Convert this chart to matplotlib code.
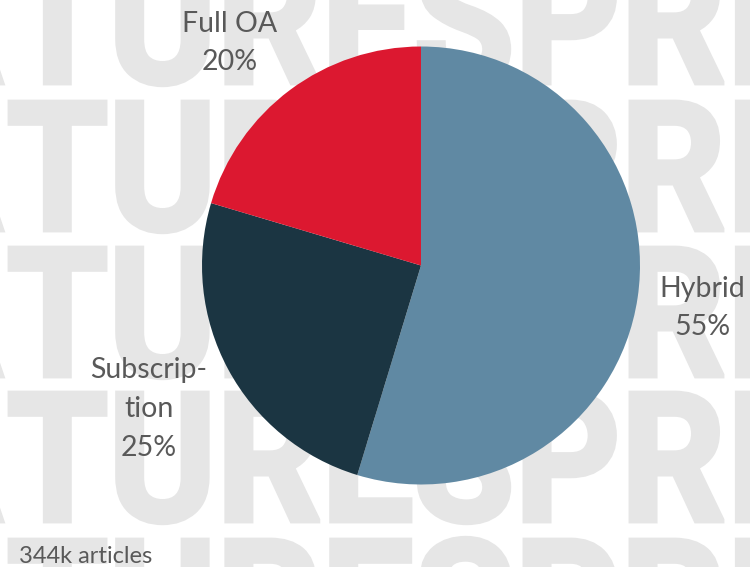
import matplotlib.pyplot as plt
from matplotlib.textpath import TextPath
from matplotlib.patches import PathPatch
from matplotlib.font_manager import FontProperties
from matplotlib.transforms import Affine2D

# Data
categories = ['Hybrid', 'Subscrip-\ntion', 'Full OA']
shares = [54.7, 24.9, 20.4]
colors = ['#6089a3', '#1b3542', '#dc1830']
note = '344k articles'

W, H = 750, 567
fig = plt.figure(figsize=(W / 100, H / 100), dpi=100)

# background watermark: condensed bold text, drawn as paths (pixel units)
fp = FontProperties(family='Roboto', weight='bold')
S = 180  # em size in px -> cap height ~128 px
ref = TextPath((0, 0), 'TURESPR', size=S, prop=fp).get_extents()
sx = 712 / ref.width
tail = TextPath((0, 0), 'TURESPRINGER', size=S, prop=fp)
head = TextPath((0, 0), 'NA', size=S, prop=fp)
hw = head.get_extents().x1
for base in [83, 230, 376, 521, 668]:
    for path, x0 in [(tail, 10 - ref.x0 * sx), (head, 2 - hw * sx)]:
        tr = Affine2D().scale(sx / W, 1 / H).translate(x0 / W, 1 - base / H) + fig.transFigure
        fig.patches.append(PathPatch(path, transform=tr, facecolor='#e6e6e6',
                                     edgecolor='#e6e6e6', linewidth=3.5, zorder=0))

# pie axes: centre (421, 265) px, radius ~219 px
cx, cy, r = 421, 265.5, 220
ax = fig.add_axes([(cx - r) / W, 1 - (cy + r) / H, 2 * r / W, 2 * r / H])
ax.set_zorder(1)
ax.patch.set_alpha(0)
wedges, _ = ax.pie(shares, colors=colors, startangle=90, counterclock=False,
                   radius=219 / 220, wedgeprops=dict(linewidth=0))
ax.set_xlim(-1, 1)
ax.set_ylim(-1, 1)
ax.set_aspect('equal')
ax.axis('off')

# labels (positions in figure pixels, Excel style outside-end)
label_pos = [(702, 308), (149, 409), (230, 43)]
for cat, v, (x, y) in zip(categories, shares, label_pos):
    fig.text(x / W, 1 - y / H, f'{cat}\n{v:.0f}%', fontsize=20.5,
             family='Lato', color='#595959', ha='center', va='center',
             linespacing=1.6, zorder=2)

fig.text(19 / W, 1 - 563 / H, note, fontsize=17, family='Lato',
         color='#595959', ha='left', va='baseline', zorder=2)

fig.savefig('out.png', dpi=100)
